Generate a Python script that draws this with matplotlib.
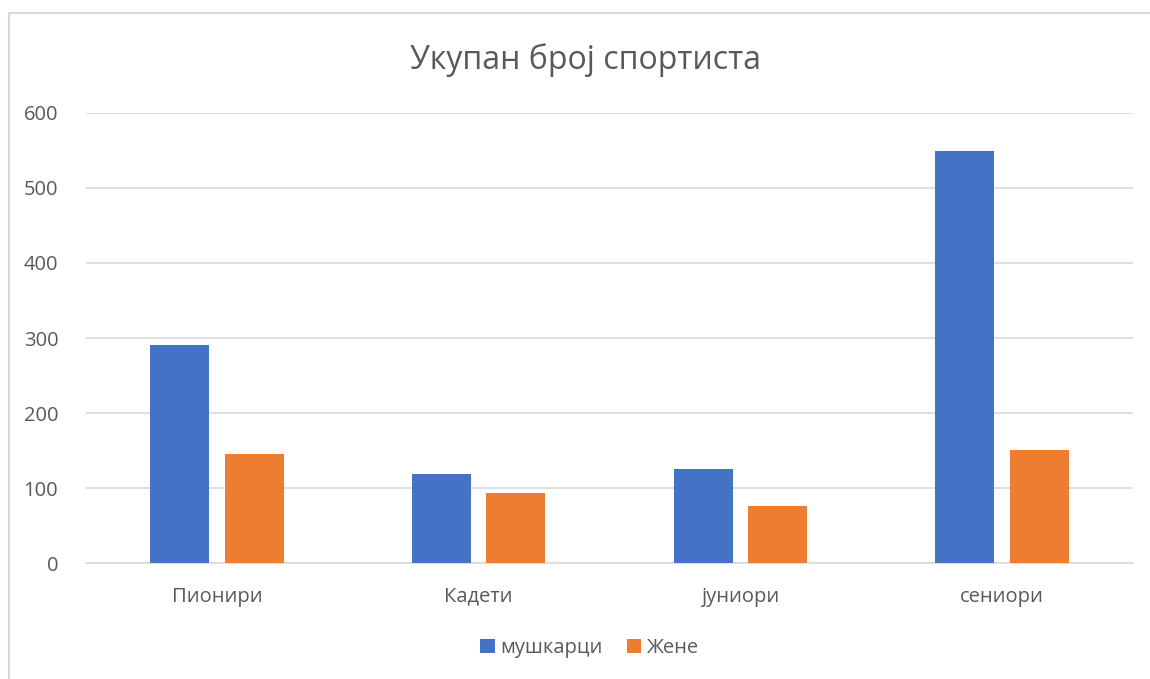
import matplotlib.pyplot as plt
import numpy as np
from matplotlib.patches import Rectangle

categories = ['Пионири', 'Кадети', 'јуниори', 'сениори']
men = [291, 119, 125, 549]
women = [145, 93, 76, 151]
series_names = ['мушкарци', 'Жене']
title = 'Укупан број спортиста'

plt.rcParams['font.family'] = ['Open Sans', 'DejaVu Sans']

fig = plt.figure(figsize=(11.5, 6.79), dpi=100)
ax = fig.add_axes([0.0748, 0.1708, 0.9104, 0.6628])

x = np.arange(len(categories))
w = 0.225
off = 0.1425
ax.bar(x - off, men, w, color='#4472C4', label=series_names[0], zorder=3)
ax.bar(x + off, women, w, color='#ED7D31', label=series_names[1], zorder=3)

ax.set_xlim(-0.5, len(categories) - 0.5)
ax.set_ylim(0, 600)
ax.set_yticks(np.arange(0, 601, 100))
ax.set_xticks(x)
ax.set_xticklabels(categories)
ax.yaxis.grid(True, color='#D9D9D9', linewidth=1.2, zorder=0)
for s in ['top', 'right', 'left']:
    ax.spines[s].set_visible(False)
ax.spines['bottom'].set_color('#D9D9D9')
ax.spines['bottom'].set_linewidth(1.2)
ax.tick_params(length=0, labelsize=14.5, colors='#595959')
ax.tick_params(axis='x', pad=17)
ax.tick_params(axis='y', pad=20)

fig.text(0.509, 0.912, title, ha='center', va='center', fontsize=23, color='#595959')

ax.legend(loc='center', bbox_to_anchor=(0.513, 0.045), bbox_transform=fig.transFigure,
          ncol=2, frameon=False, fontsize=14.5, labelcolor='#595959',
          handlelength=0.7, handleheight=0.7, handletextpad=0.3, columnspacing=1.2)

# outer chart border
fig.add_artist(Rectangle((9 / 1150, -0.01), 1.1, 1 - 13 / 679 + 0.01, transform=fig.transFigure,
                         fill=False, edgecolor='#D9D9D9', linewidth=1.5))

fig.savefig('out.png', dpi=100)
